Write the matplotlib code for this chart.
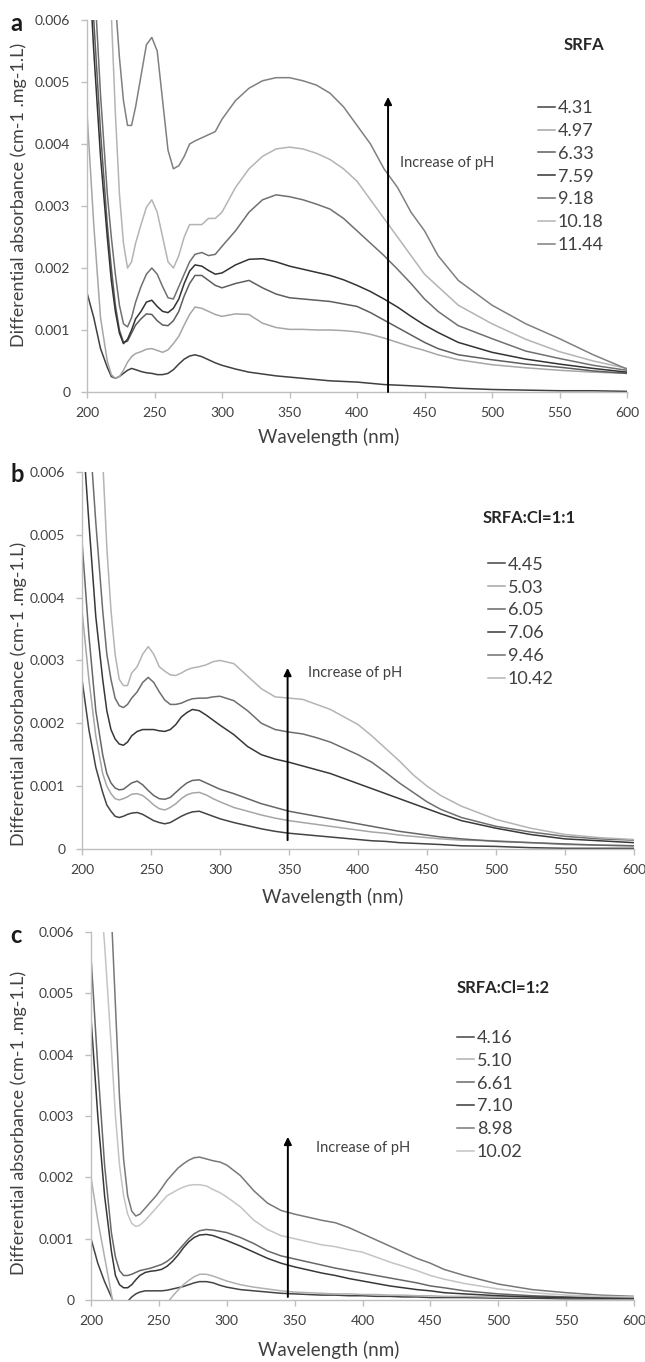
import numpy as np
import matplotlib
matplotlib.use("Agg")
import matplotlib.pyplot as plt
import matplotlib.ticker as mticker

plt.rcParams["font.family"] = ["Lato", "DejaVu Sans"]

# ── Data ──────────────────────────────────────────────────────────────

WL = [200, 205, 210, 215, 218, 221, 224, 227, 230, 233, 236, 240, 244, 248,
      252, 256, 260, 264, 268, 272, 276, 280, 285, 290, 295, 300, 310, 320,
      330, 340, 350, 360, 370, 380, 390, 400, 410, 420, 430, 440, 450, 460,
      475, 500, 525, 550, 575, 600]

# panel a: SRFA
A_PH = ["4.31", "4.97", "6.33", "7.59", "9.18", "10.18", "11.44"]
A_431 = [0.0016, 0.0012, 0.0007, 0.0004, 0.00025, 0.00022, 0.00025, 0.0003, 0.00035, 0.00038, 0.00036, 0.00033,
         0.00031, 0.0003, 0.00028, 0.00028, 0.0003, 0.00036, 0.00045, 0.00053, 0.00058, 0.0006, 0.00057, 0.00052,
         0.00047, 0.00043, 0.00037, 0.00032, 0.00029, 0.00026, 0.00024, 0.00022, 0.0002, 0.00018, 0.00017, 0.00016,
         0.00014, 0.00012, 0.00011, 0.0001, 0.00009, 0.00008, 0.00006, 0.00004, 0.00003, 0.00002, 0.00002, 0.00001]
A_497 = [0.0045, 0.0027, 0.0012, 0.0005, 0.00028, 0.00022, 0.00025, 0.00035, 0.00048, 0.00057, 0.00062, 0.00065,
         0.00069, 0.0007, 0.00067, 0.00064, 0.00068, 0.00078, 0.0009, 0.00108, 0.00125, 0.00137, 0.00135, 0.0013,
         0.00125, 0.00122, 0.00126, 0.00125, 0.00111, 0.00104, 0.00101, 0.00101, 0.001, 0.001, 0.00099, 0.00097,
         0.00093, 0.00087, 0.0008, 0.00073, 0.00067, 0.0006, 0.00052, 0.00044, 0.00039, 0.00035, 0.00032, 0.0003]
A_633 = [0.0085, 0.006, 0.0042, 0.0027, 0.002, 0.0014, 0.001, 0.0008, 0.00082, 0.00095, 0.00108, 0.00118,
         0.00126, 0.00125, 0.00115, 0.00108, 0.00107, 0.00115, 0.0013, 0.00155, 0.00175, 0.00188, 0.00188, 0.0018,
         0.00172, 0.00168, 0.00175, 0.0018, 0.00168, 0.00158, 0.00152, 0.0015, 0.00148, 0.00146, 0.00142, 0.00138,
         0.00128, 0.00116, 0.00104, 0.00092, 0.0008, 0.0007, 0.0006, 0.00052, 0.00045, 0.0004, 0.00034, 0.0003]
A_759 = [0.0075, 0.0055, 0.0038, 0.0025, 0.0018, 0.0013, 0.00095, 0.00078, 0.00085, 0.001, 0.00118, 0.0013,
         0.00145, 0.00148, 0.00138, 0.0013, 0.00128, 0.00135, 0.0015, 0.00175, 0.00195, 0.00205, 0.00203, 0.00196,
         0.0019, 0.00192, 0.00205, 0.00214, 0.00215, 0.0021, 0.00203, 0.00198, 0.00193, 0.00188, 0.00181, 0.00172,
         0.00162, 0.0015, 0.00137, 0.00122, 0.00108, 0.00096, 0.0008, 0.00064, 0.00053, 0.00045, 0.00038, 0.00032]
A_918 = [0.009, 0.0068, 0.0048, 0.0032, 0.0025, 0.0019, 0.0014, 0.0011, 0.00105, 0.0012, 0.00145, 0.0017,
         0.0019, 0.002, 0.0019, 0.0017, 0.00152, 0.0015, 0.0017, 0.0019, 0.0021, 0.00222, 0.00225, 0.0022,
         0.00222, 0.00235, 0.0026, 0.0029, 0.0031, 0.00318, 0.00315, 0.0031, 0.00303, 0.00295, 0.0028, 0.0026,
         0.0024, 0.0022, 0.00198, 0.00175, 0.0015, 0.0013, 0.00107, 0.00086, 0.00066, 0.00054, 0.00043, 0.00035]
A_1018 = [0.012, 0.01, 0.0085, 0.0075, 0.0061, 0.0045, 0.0032, 0.0024, 0.002, 0.0021, 0.0024, 0.0027,
          0.00298, 0.0031, 0.0029, 0.0025, 0.0021, 0.002, 0.0022, 0.0025, 0.0027, 0.0027, 0.0027, 0.0028,
          0.0028, 0.0029, 0.0033, 0.0036, 0.0038, 0.00392, 0.00395, 0.00392, 0.00385, 0.00375, 0.0036, 0.0034,
          0.0031, 0.0028, 0.0025, 0.0022, 0.0019, 0.0017, 0.0014, 0.0011, 0.00085, 0.00065, 0.0005, 0.00038]
A_1144 = [0.014, 0.012, 0.01, 0.0085, 0.0075, 0.0063, 0.0054, 0.0047, 0.0043, 0.0043, 0.0046, 0.0051,
          0.0056, 0.00572, 0.0055, 0.0047, 0.0039, 0.0036, 0.00365, 0.0038, 0.004, 0.00405, 0.0041, 0.00415,
          0.0042, 0.0044, 0.0047, 0.0049, 0.00502, 0.00507, 0.00507, 0.00502, 0.00495, 0.00482, 0.0046, 0.0043,
          0.004, 0.0036, 0.0033, 0.0029, 0.0026, 0.0022, 0.0018, 0.0014, 0.0011, 0.00086, 0.0006, 0.00037]
A_SERIES = [A_431, A_497, A_633, A_759, A_918, A_1018, A_1144]
A_COLORS = ["#404040", "#a6a6a6", "#5e5e5e", "#333333", "#707070", "#b4b4b4", "#808080"]

# panel b: SRFA:Cl=1:1
B_PH = ["4.45", "5.03", "6.05", "7.06", "9.46", "10.42"]
B_445 = [0.0027, 0.0019, 0.0013, 0.0009, 0.0007, 0.0006, 0.00052, 0.0005, 0.00052, 0.00055, 0.00057, 0.00058,
         0.00055, 0.0005, 0.00045, 0.00042, 0.0004, 0.00042, 0.00047, 0.00052, 0.00056, 0.00059, 0.0006, 0.00056,
         0.00052, 0.00048, 0.00042, 0.00037, 0.00032, 0.00028, 0.00025, 0.00023, 0.00021, 0.00019, 0.00017, 0.00015,
         0.00013, 0.00012, 0.0001, 0.00009, 0.00008, 0.00007, 0.00005, 0.00004, 0.00002, 0.00001, 0.00001, 0.00001]
B_503 = [0.0038, 0.0027, 0.0018, 0.0012, 0.001, 0.00088, 0.0008, 0.00078, 0.0008, 0.00083, 0.00087, 0.00088,
         0.00085, 0.00078, 0.0007, 0.00064, 0.00062, 0.00066, 0.00072, 0.0008, 0.00086, 0.00089, 0.0009, 0.00086,
         0.0008, 0.00075, 0.00066, 0.0006, 0.00054, 0.00049, 0.00045, 0.00042, 0.00039, 0.00036, 0.00033, 0.0003,
         0.00027, 0.00025, 0.00022, 0.0002, 0.00018, 0.00016, 0.00014, 0.00013, 0.0001, 0.00007, 0.00006, 0.00005]
B_605 = [0.0049, 0.0034, 0.0022, 0.0015, 0.0012, 0.00105, 0.00097, 0.00094, 0.00095, 0.001, 0.00105, 0.00108,
         0.00102, 0.00093, 0.00085, 0.0008, 0.00079, 0.00082, 0.0009, 0.00098, 0.00105, 0.00109, 0.0011, 0.00105,
         0.001, 0.00095, 0.00088, 0.0008, 0.00072, 0.00066, 0.0006, 0.00056, 0.00052, 0.00048, 0.00044, 0.0004,
         0.00036, 0.00032, 0.00028, 0.00025, 0.00022, 0.00019, 0.00016, 0.00012, 0.0001, 0.00008, 0.00006, 0.00005]
B_706 = [0.0068, 0.0052, 0.0037, 0.0027, 0.0022, 0.0019, 0.00175, 0.00167, 0.00165, 0.0017, 0.0018, 0.00187,
         0.0019, 0.0019, 0.0019, 0.00188, 0.00187, 0.0019, 0.00198, 0.0021, 0.00217, 0.00222, 0.0022, 0.00213,
         0.00205, 0.00197, 0.00182, 0.00163, 0.0015, 0.00143, 0.00138, 0.00132, 0.00126, 0.0012, 0.00112, 0.00104,
         0.00096, 0.00088, 0.0008, 0.00072, 0.00064, 0.00056, 0.00045, 0.00033, 0.00023, 0.00016, 0.00013, 0.0001]
B_946 = [0.0085, 0.0068, 0.0052, 0.0038, 0.0031, 0.0027, 0.0024, 0.00228, 0.00225, 0.0023, 0.0024, 0.0025,
         0.00265, 0.00273, 0.00265, 0.0025, 0.00237, 0.0023, 0.0023, 0.00232, 0.00236, 0.00239, 0.0024, 0.0024,
         0.00242, 0.00243, 0.00236, 0.0022, 0.002, 0.0019, 0.00186, 0.00183, 0.00177, 0.0017, 0.0016, 0.0015,
         0.00138, 0.00122, 0.00105, 0.0009, 0.00075, 0.00063, 0.0005, 0.00036, 0.00027, 0.0002, 0.00016, 0.00014]
B_1042 = [0.011, 0.0095, 0.008, 0.0062, 0.0048, 0.0038, 0.0031, 0.0027, 0.0026, 0.0026, 0.0028, 0.0029,
          0.0031, 0.00322, 0.0031, 0.0029, 0.00283, 0.00277, 0.00276, 0.0028, 0.00285, 0.00288, 0.0029, 0.00293,
          0.00298, 0.003, 0.00295, 0.00275, 0.00255, 0.00242, 0.0024, 0.00238, 0.0023, 0.00222, 0.0021, 0.00198,
          0.0018, 0.0016, 0.0014, 0.00118, 0.001, 0.00085, 0.00068, 0.00047, 0.00033, 0.00023, 0.00018, 0.00015]
B_SERIES = [B_445, B_503, B_605, B_706, B_946, B_1042]
B_COLORS = ["#444444", "#a6a6a6", "#666666", "#383838", "#6e6e6e", "#b4b4b4"]

# panel c: SRFA:Cl=1:2
C_PH = ["4.16", "5.10", "6.61", "7.10", "8.98", "10.02"]
C_416 = [0.001, 0.0006, 0.0003, 0.00005, -0.0001, -0.0002, -0.0001, -0.00002, 0.00005, 0.0001, 0.00013, 0.00015,
         0.00015, 0.00015, 0.00015, 0.00016, 0.00018, 0.0002, 0.00022, 0.00025, 0.00028, 0.0003, 0.0003, 0.00028,
         0.00024, 0.00021, 0.00017, 0.00015, 0.00013, 0.00011, 0.0001, 0.00009, 0.00008, 0.00008, 0.00007, 0.00007,
         0.00006, 0.00006, 0.00005, 0.00005, 0.00004, 0.00004, 0.00004, 0.00003, 0.00003, 0.00002, 0.00002, 0.00002]
C_510 = [0.002, 0.0013, 0.0007, 0.0001, -0.0003, -0.0006, -0.0008, -0.0009, -0.0009, -0.0008, -0.0007, -0.0005,
         -0.0004, -0.0003, -0.00018, -0.00005, 0.00006, 0.00016, 0.00025, 0.00032, 0.00038, 0.00042, 0.00042, 0.00039,
         0.00035, 0.00031, 0.00025, 0.00021, 0.00018, 0.00015, 0.00013, 0.00012, 0.00011, 0.0001, 0.0001, 0.00009,
         0.00009, 0.00008, 0.00008, 0.00007, 0.00007, 0.00006, 0.00006, 0.00005, 0.00005, 0.00004, 0.00004, 0.00004]
C_661 = [0.0056, 0.0038, 0.0022, 0.0011, 0.0007, 0.00048, 0.0004, 0.0004, 0.00042, 0.00045, 0.00048, 0.0005,
         0.00052, 0.00055, 0.00058, 0.00063, 0.0007, 0.0008, 0.0009, 0.001, 0.00108, 0.00113, 0.00115, 0.00114,
         0.00112, 0.0011, 0.00102, 0.00092, 0.0008, 0.00072, 0.00067, 0.00062, 0.00057, 0.00052, 0.00048, 0.00044,
         0.0004, 0.00036, 0.00032, 0.00028, 0.00023, 0.0002, 0.00015, 0.0001, 0.00007, 0.00005, 0.00004, 0.00003]
C_710 = [0.0046, 0.003, 0.0017, 0.0008, 0.0004, 0.00025, 0.0002, 0.0002, 0.00025, 0.00033, 0.0004, 0.00045,
         0.00047, 0.00048, 0.0005, 0.00055, 0.00063, 0.00073, 0.00085, 0.00095, 0.00102, 0.00106, 0.00107, 0.00105,
         0.00101, 0.00097, 0.00088, 0.00078, 0.00068, 0.0006, 0.00054, 0.00049, 0.00044, 0.0004, 0.00035, 0.00031,
         0.00027, 0.00023, 0.0002, 0.00017, 0.00015, 0.00012, 0.0001, 0.00007, 0.00005, 0.00004, 0.00003, 0.00003]
C_898 = [0.012, 0.01, 0.008, 0.0063, 0.0048, 0.0033, 0.0023, 0.0017, 0.00145, 0.00137, 0.0014, 0.0015,
         0.0016, 0.0017, 0.00182, 0.00195, 0.00205, 0.00215, 0.00222, 0.00228, 0.00232, 0.00233, 0.0023, 0.00227,
         0.00225, 0.0022, 0.00203, 0.00178, 0.00158, 0.00146, 0.0014, 0.00135, 0.0013, 0.00126, 0.00118, 0.00108,
         0.00098, 0.00088, 0.00078, 0.00068, 0.0006, 0.0005, 0.0004, 0.00026, 0.00017, 0.00012, 0.00008, 0.00006]
C_1002 = [0.009, 0.0072, 0.0058, 0.0041, 0.003, 0.0022, 0.0017, 0.0014, 0.00125, 0.0012, 0.00122, 0.0013,
          0.0014, 0.0015, 0.0016, 0.0017, 0.00175, 0.0018, 0.00184, 0.00187, 0.00188, 0.00188, 0.00186, 0.0018,
          0.00175, 0.00168, 0.00152, 0.0013, 0.00115, 0.00105, 0.001, 0.00095, 0.0009, 0.00087, 0.00082, 0.00078,
          0.0007, 0.00062, 0.00055, 0.00048, 0.0004, 0.00034, 0.00027, 0.00018, 0.00012, 0.00008, 0.00006, 0.00005]
C_SERIES = [C_416, C_510, C_661, C_710, C_898, C_1002]
C_COLORS = ["#444444", "#b0b0b0", "#686868", "#383838", "#787878", "#c4c4c4"]

X_TICKS = [200, 250, 300, 350, 400, 450, 500, 550, 600]
Y_TICKS = [0, 0.001, 0.002, 0.003, 0.004, 0.005, 0.006]

PANELS = [
    dict(letter="a", title="SRFA", labels=A_PH, series=A_SERIES, colors=A_COLORS,
         rect=[0.1349, 0.7122, 0.8372, 0.2731], arrow=(423, 0.0, 0.00476), text=(432, 0.0037),
         leg=(0.835, 0.785), tpos=(0.92, 0.933), tha="center", ylab=0.53, xlab=(0.448, -0.097)),
    dict(letter="b", title="SRFA:Cl=1:1", labels=B_PH, series=B_SERIES, colors=B_COLORS,
         rect=[0.1271, 0.3767, 0.8558, 0.2768], arrow=(349, 0.00014, 0.00288), text=(364, 0.0028),
         leg=(0.7355, 0.775), tpos=(0.726, 0.878), tha="left", ylab=0.41, xlab=(0.455, -0.103)),
    dict(letter="c", title="SRFA:Cl=1:2", labels=C_PH, series=C_SERIES, colors=C_COLORS,
         rect=[0.1411, 0.0455, 0.8419, 0.2702], arrow=(345, 0.00005, 0.00266), text=(366, 0.00248),
         leg=(0.674, 0.734), tpos=(0.674, 0.848), tha="left", ylab=0.48, xlab=(0.438, -0.111)),
]

AXIS_GRAY = "#bfbfbf"
TEXT_COL = "#404040"
FIG_W, FIG_H = 645, 1362

fig = plt.figure(figsize=(FIG_W / 100, FIG_H / 100), dpi=100)
fig.patch.set_facecolor("white")


def ytick_fmt(v, _):
    return "0" if abs(v) < 1e-12 else f"{v:.3f}"


for p in PANELS:
    ax = fig.add_axes(p["rect"])
    lines = []
    for vals, col in zip(p["series"], p["colors"]):
        ln, = ax.plot(WL, vals, color=col, lw=1.1)
        lines.append(ln)

    ax.set_xlim(200, 600)
    ax.set_ylim(0, 0.006)
    ax.set_xticks(X_TICKS)
    ax.set_yticks(Y_TICKS)
    ax.yaxis.set_major_formatter(mticker.FuncFormatter(ytick_fmt))
    for side in ["top", "right"]:
        ax.spines[side].set_visible(False)
    for side in ["left", "bottom"]:
        ax.spines[side].set_color(AXIS_GRAY)
        ax.spines[side].set_linewidth(1.0)
    ax.tick_params(axis="both", direction="out", length=4, width=1.0, color=AXIS_GRAY,
                   labelcolor=TEXT_COL, labelsize=10)
    ax.tick_params(axis="x", pad=7)
    ax.tick_params(axis="y", pad=8)

    ax.set_ylabel("Differential absorbance (cm-1 .mg-1.L)", fontsize=13, color=TEXT_COL)
    ax.yaxis.set_label_coords((27 - p["rect"][0] * FIG_W) / (p["rect"][2] * FIG_W), p["ylab"])
    ax.set_xlabel("Wavelength (nm)", fontsize=13.5, color=TEXT_COL)
    ax.xaxis.set_label_coords(*p["xlab"])

    # arrow + label
    ax_x, y0, y1 = p["arrow"]
    ax.annotate("", xy=(ax_x, y1), xytext=(ax_x, y0),
                arrowprops=dict(arrowstyle="-|>", color="black", lw=1.4, mutation_scale=11,
                                shrinkA=0, shrinkB=0))
    ax.text(p["text"][0], p["text"][1], "Increase of pH", fontsize=10.5, color=TEXT_COL,
            ha="left", va="center")

    # legend
    ax.legend(lines, p["labels"], loc="upper left", bbox_to_anchor=p["leg"],
              frameon=False, fontsize=13, handlelength=0.95, handletextpad=0.15,
              labelspacing=0.38, borderpad=0, borderaxespad=0, labelcolor=TEXT_COL)
    ax.text(p["tpos"][0], p["tpos"][1], p["title"], transform=ax.transAxes,
            fontsize=12, fontweight="bold", color="#262626", ha=p["tha"], va="center")

    # panel letter
    top_px = (1 - p["rect"][1] - p["rect"][3]) * FIG_H
    fig.text(10 / FIG_W, 1 - (top_px + 3) / FIG_H, p["letter"], fontsize=17,
             fontweight="bold", color="#1a1a1a", ha="left", va="center")

fig.savefig("out.png", dpi=100, facecolor="white")
